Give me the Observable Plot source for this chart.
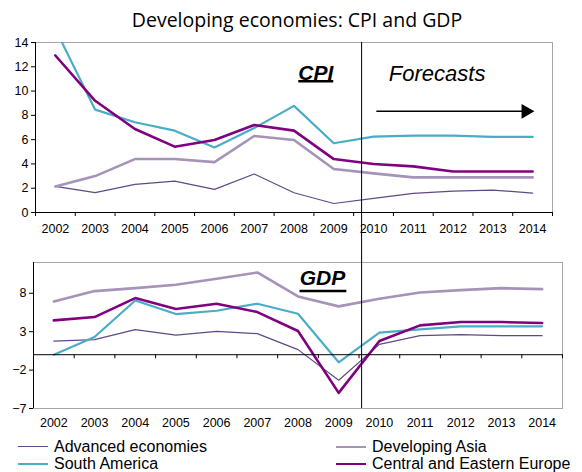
<!DOCTYPE html>
<html>
<head>
<meta charset="utf-8">
<script src="https://cdn.jsdelivr.net/npm/d3@7"></script>
<script src="https://cdn.jsdelivr.net/npm/@observablehq/plot@0.6"></script>
<style>
  html, body { margin: 0; padding: 0; background: #fff; }
  body { width: 582px; height: 472px; position: relative; overflow: hidden; font-family: "Liberation Sans", Arial, sans-serif; }
  #title { position: absolute; left: 0; top: 6px; width: 582px; text-align: center; font-family: "Open Sans", sans-serif; font-size: 19.5px; color: #000; padding-left: 12px; box-sizing: border-box; }
  #top { position: absolute; left: 0; top: 36px; }
  #bottom { position: absolute; left: 0; top: 258px; }
  #legend { position: absolute; left: 0; top: 439px; width: 582px; height: 33px; font-size: 16px; color: #000; }
  .li { position: absolute; height: 16px; line-height: 16px; white-space: nowrap; }
  .sw { display: inline-block; width: 30px; vertical-align: middle; margin-right: 6px; position: relative; top: -1px; }
  svg text { font-family: "Liberation Sans", Arial, sans-serif; }
</style>
</head>
<body>
<div id="title">Developing economies: CPI and GDP</div>
<div id="top"></div>
<div id="bottom"></div>
<div id="legend"></div>
<script>
const years = [2002, 2003, 2004, 2005, 2006, 2007, 2008, 2009, 2010, 2011, 2012, 2013, 2014];
const seriesNames = ["Advanced economies", "Developing Asia", "South America", "Central and Eastern Europe"];
const seriesColors = ["#5e4a86", "#a593b8", "#4bacc6", "#81007f"];
const seriesWidths = [1.2, 2.6, 2.2, 2.6];

// CPI, % y/y
const cpiAdvanced = [2.15, 1.63, 2.31, 2.59, 1.9, 3.17, 1.63, 0.74, 1.16, 1.57, 1.76, 1.85, 1.6];
const cpiDevAsia  = [2.15, 3.0, 4.4, 4.4, 4.15, 6.3, 5.97, 3.58, 3.22, 2.89, 2.89, 2.89, 2.89];
const cpiSouthAm  = [15.1, 8.47, 7.43, 6.74, 5.36, 6.95, 8.78, 5.7, 6.25, 6.33, 6.33, 6.22, 6.22];
const cpiCEE      = [12.93, 9.2, 6.88, 5.42, 5.97, 7.2, 6.74, 4.4, 3.99, 3.8, 3.38, 3.38, 3.38];

// GDP growth, %
const gdpAdvanced = [1.78, 1.96, 3.26, 2.56, 3.04, 2.74, 0.66, -3.32, 1.35, 2.48, 2.61, 2.48, 2.48];
const gdpDevAsia  = [6.93, 8.28, 8.66, 9.1, 9.88, 10.7, 7.58, 6.29, 7.28, 8.1, 8.4, 8.66, 8.53];
const gdpSouthAm  = [0.0, 2.3, 7.06, 5.29, 5.72, 6.63, 5.33, -0.99, 2.87, 3.3, 3.69, 3.69, 3.69];
const gdpCEE      = [4.47, 4.9, 7.37, 5.94, 6.63, 5.55, 3.08, -4.97, 1.78, 3.82, 4.25, 4.25, 4.12];

const cpiTicks = [0, 2, 4, 6, 8, 10, 12, 14];
const gdpTicks = [-7, -2, 3, 8];
const forecastStart = 2009.7;           // divider between actuals and forecasts
const arrowFrom = 2010.07, arrowTo = 2013.95, arrowLevel = 8.33; // "Forecasts" arrow in CPI units

function toRows(arrs) {
  const rows = [];
  arrs.forEach((arr, s) => arr.forEach((v, i) => rows.push({year: years[i], value: v, series: seriesNames[s]})));
  return rows;
}
const cpiRows = toRows([cpiAdvanced, cpiDevAsia, cpiSouthAm, cpiCEE]);
const gdpRows = toRows([gdpAdvanced, gdpDevAsia, gdpSouthAm, gdpCEE]);
const bounds = d3.range(years[0] - 0.5, years[years.length - 1] + 1, 1);
const xDomain = [years[0] - 0.5, years[years.length - 1] + 0.5];

function seriesLines(rows) {
  return seriesNames.map((name, s) => Plot.line(rows.filter(r => r.series === name), {
    x: "year", y: "value", stroke: seriesColors[s], strokeWidth: seriesWidths[s], clip: true
  }));
}

// ---------- top: CPI ----------
const W = 582;
const topM = {left: 35, right: 30, top: 6, bottom: 46};
const topH = 222;
const topPlot = Plot.plot({
  width: W, height: topH,
  marginLeft: topM.left, marginRight: topM.right, marginTop: topM.top, marginBottom: topM.bottom,
  style: {fontSize: "12.5px", color: "#000", background: "transparent"},
  x: {domain: xDomain},
  y: {domain: [0, 14]},
  marks: [
    Plot.frame({stroke: "#a6a6a6"}),
    ...seriesLines(cpiRows),
    Plot.axisY(cpiTicks, {tickSize: 4, tickPadding: 3, label: null, fontSize: 12.5, stroke: "#000"}),
    Plot.axisX(bounds, {tickSize: 4, tickFormat: () => "", label: null, stroke: "#000"}),
    Plot.axisX(years, {tickSize: 0, tickPadding: 12, tickFormat: d => String(d), label: null, fontSize: 12.5}),
    Plot.ruleX([xDomain[0]], {stroke: "#000"}),
    Plot.ruleY([0], {stroke: "#000"}),
    Plot.ruleX([forecastStart], {stroke: "#000", strokeWidth: 1, insetBottom: -topM.bottom}),
    Plot.text(["CPI"], {x: 2008.55, y: 11.5, text: d => d, fontSize: 21, fontWeight: "bold", fontStyle: "italic", textAnchor: "middle", letterSpacing: "-1px"}),
    Plot.ruleY([10.8], {x1: 2008.12, x2: 2009.0, stroke: "#000", strokeWidth: 2.5}),
    Plot.text(["Forecasts"], {x: 2011.6, y: 11.45, text: d => d, fontSize: 22, fontStyle: "italic", textAnchor: "middle", letterSpacing: "-1px"}),
    Plot.link([{a: arrowFrom, b: arrowTo - 0.2}], {x1: "a", x2: "b", y1: () => arrowLevel, y2: () => arrowLevel, stroke: "#000", strokeWidth: 1.5}),
    Plot.dot([arrowTo], {x: d => d - 0.12, y: () => arrowLevel, symbol: "triangle", r: 5.5, fill: "#000", rotate: 90})
  ]
});
document.getElementById("top").appendChild(topPlot);

// ---------- bottom: GDP ----------
const botM = {left: 33, right: 20, top: 4, bottom: 32};
const botH = 182;
// same pixel position for the forecast divider as in the top chart
const topX = topPlot.scale("x");
const botX = Plot.scale({x: {domain: xDomain, range: [botM.left, W - botM.right]}});
const forecastStartBottom = botX.invert(topX.apply(forecastStart));

const bottomPlot = Plot.plot({
  width: W, height: botH,
  marginLeft: botM.left, marginRight: botM.right, marginTop: botM.top, marginBottom: botM.bottom,
  style: {fontSize: "12.5px", color: "#000", background: "transparent"},
  x: {domain: xDomain},
  y: {domain: [-7, 12]},
  marks: [
    Plot.frame({stroke: "#a6a6a6"}),
    ...seriesLines(gdpRows),
    Plot.axisY(gdpTicks, {tickSize: 4, tickPadding: 3, label: null, fontSize: 12.5, stroke: "#000"}),
    Plot.axisX(years, {tickSize: 0, tickPadding: 10, tickFormat: d => String(d), label: null, fontSize: 12.5}),
    Plot.ruleX([xDomain[0]], {stroke: "#000"}),
    Plot.ruleY([0], {stroke: "#000"}),
    Plot.ruleX(bounds, {x: d => d, y1: () => 0, y2: () => 0, insetBottom: -4, stroke: "#000"}),
    Plot.ruleX([forecastStartBottom], {stroke: "#000", strokeWidth: 1, insetTop: -botM.top}),
    Plot.text(["GDP"], {x: 2008.6, y: 10.0, text: d => d, fontSize: 21, fontWeight: "bold", fontStyle: "italic", textAnchor: "middle", letterSpacing: "-1px"}),
    Plot.ruleY([8.3], {x1: 2008.05, x2: 2009.2, stroke: "#000", strokeWidth: 2.5})
  ]
});
document.getElementById("bottom").appendChild(bottomPlot);

// ---------- legend ----------
const legend = document.getElementById("legend");
const legendPos = [[18, 0], [336, 0], [18, 17], [336, 17]];
seriesNames.forEach((name, s) => {
  const el = document.createElement("div");
  el.className = "li";
  el.style.left = legendPos[s][0] + "px";
  el.style.top = legendPos[s][1] + "px";
  const sw = document.createElement("span");
  sw.className = "sw";
  sw.style.borderTop = seriesWidths[s] + "px solid " + seriesColors[s];
  el.appendChild(sw);
  el.appendChild(document.createTextNode(name));
  legend.appendChild(el);
});
</script>
</body>
</html>
